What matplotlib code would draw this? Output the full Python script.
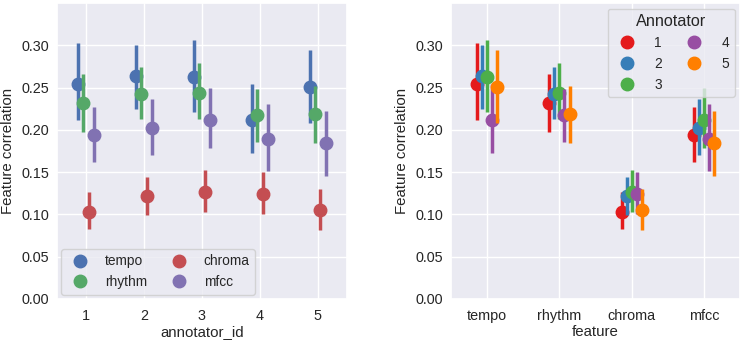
import numpy as np
import matplotlib
matplotlib.use("Agg")
import matplotlib.pyplot as plt
from matplotlib.lines import Line2D
import seaborn as sns

sns.set_theme(style="darkgrid")
plt.rcParams['font.family'] = ['Liberation Sans', 'DejaVu Sans']

annotators = ['1', '2', '3', '4', '5']
features = ['tempo', 'rhythm', 'chroma', 'mfcc']

# mean correlation, rows = features, columns = annotators
mean_tempo = [0.2546, 0.2633, 0.2620, 0.2120, 0.2507]
mean_rhythm = [0.2317, 0.2424, 0.2436, 0.2171, 0.2190]
mean_chroma = [0.1034, 0.1220, 0.1268, 0.1240, 0.1054]
mean_mfcc = [0.1934, 0.2021, 0.2112, 0.1895, 0.1850]

# confidence interval bounds
lo_tempo = [0.212, 0.2246, 0.221, 0.1725, 0.208]
hi_tempo = [0.303, 0.300, 0.306, 0.2546, 0.295]
lo_rhythm = [0.197, 0.2128, 0.2128, 0.1855, 0.185]
hi_rhythm = [0.2665, 0.274, 0.279, 0.2487, 0.2523]
lo_chroma = [0.0826, 0.0995, 0.1034, 0.1007, 0.0817]
hi_chroma = [0.126, 0.144, 0.153, 0.1497, 0.130]
lo_mfcc = [0.1619, 0.1698, 0.179, 0.1508, 0.146]
hi_mfcc = [0.2266, 0.2365, 0.2495, 0.231, 0.2227]

means = np.array([mean_tempo, mean_rhythm, mean_chroma, mean_mfcc])
lows = np.array([lo_tempo, lo_rhythm, lo_chroma, lo_mfcc])
highs = np.array([hi_tempo, hi_rhythm, hi_chroma, hi_mfcc])

feat_colors = ['#4C72B0', '#55A868', '#C44E52', '#8172B2']
ann_colors = ['#E41A1C', '#377EB8', '#4DAF4A', '#984EA3', '#FF7F00']

tick_fs = 10.4
leg_fs = 9.9
label_fs = 10.8
ms = 9
lw = 2.5

fig = plt.figure(figsize=(7.43, 3.44), dpi=100)
ax1 = fig.add_axes([0.0767, 0.131, 0.390, 0.860])
ax2 = fig.add_axes([0.607, 0.131, 0.389, 0.860])

def draw(ax, mean, lo, hi, colors):
    nh, nc = mean.shape
    offs = np.linspace(-0.14, 0.14, nh)
    x = np.arange(nc)
    for h in range(nh):
        xs = x + offs[h]
        ax.vlines(xs, lo[h], hi[h], color=colors[h], lw=lw, zorder=3 + h * 0.1)
        ax.plot(xs, mean[h], 'o', color=colors[h], ms=ms, mec=colors[h], zorder=3 + h * 0.1 + 0.05)
    ax.set_xlim(-0.5, nc - 0.5)
    ax.set_ylim(0, 0.35)
    ax.set_yticks(np.arange(0, 0.31, 0.05))
    ax.set_yticklabels(['%.2f' % v for v in np.arange(0, 0.31, 0.05)])
    ax.tick_params(labelsize=tick_fs, length=0)
    ax.tick_params(axis='y', pad=5.5)
    ax.tick_params(axis='x', pad=7)
    ax.set_ylabel('Feature correlation', fontsize=label_fs, labelpad=5)

# left: hue = feature
draw(ax1, means, lows, highs, feat_colors)
ax1.set_xticks(range(len(annotators)))
ax1.set_xticklabels(annotators)
ax1.set_xlabel('annotator_id', fontsize=label_fs, labelpad=2)
h1 = [Line2D([], [], marker='o', ls='', color=c, ms=ms) for c in feat_colors]
ax1.legend(h1, features, ncol=2, loc='lower left', fontsize=leg_fs,
           handletextpad=0.8, columnspacing=1.3, borderaxespad=0.3)

# right: hue = annotator
draw(ax2, means.T, lows.T, highs.T, ann_colors)
ax2.set_xticks(range(len(features)))
ax2.set_xticklabels(features)
ax2.set_xlabel('feature', fontsize=label_fs, labelpad=2)
h2 = [Line2D([], [], marker='o', ls='', color=c, ms=ms) for c in ann_colors]
leg = ax2.legend(h2, annotators, ncol=2, loc='upper right', fontsize=leg_fs,
                 title='Annotator', title_fontsize=11.7, handletextpad=1.0,
                 columnspacing=1.3, borderaxespad=0.4)

fig.savefig('out.png', dpi=100)
